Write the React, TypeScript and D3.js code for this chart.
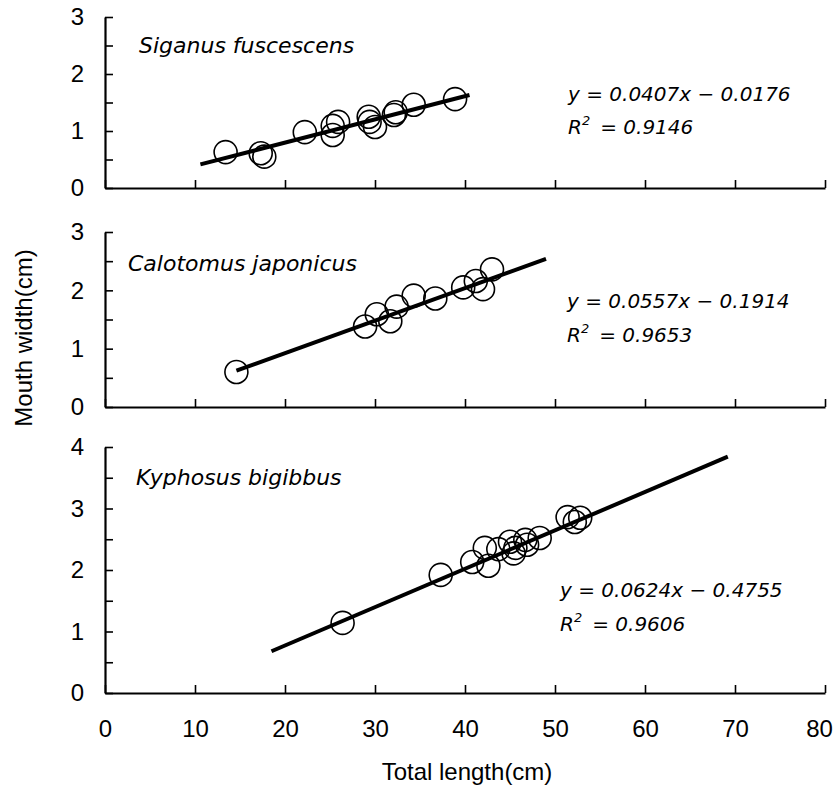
import React, { useEffect, useRef } from "react";
import * as d3 from "d3";

// ---- data ----
const xTicks = [0, 10, 20, 30, 40, 50, 60, 70, 80];

const sigX = [13.4, 17.3, 17.7, 22.2, 25.3, 25.3, 25.9, 29.3, 29.4, 30.0, 32.1, 32.3, 34.3, 38.9];
const sigY = [0.63, 0.61, 0.55, 0.98, 1.09, 0.93, 1.16, 1.25, 1.16, 1.07, 1.28, 1.33, 1.46, 1.56];

const calX = [14.6, 28.9, 30.2, 31.7, 32.4, 34.3, 36.7, 39.8, 41.2, 42.0, 43.0];
const calY = [0.60, 1.38, 1.59, 1.47, 1.72, 1.91, 1.86, 2.05, 2.16, 2.02, 2.36];

const kypX = [26.4, 37.3, 40.8, 42.2, 42.6, 43.7, 45.0, 45.4, 45.6, 46.7, 46.9, 48.3, 51.4, 52.2, 52.8];
const kypY = [1.14, 1.92, 2.13, 2.36, 2.07, 2.34, 2.46, 2.27, 2.36, 2.49, 2.41, 2.52, 2.86, 2.78, 2.85];

const species = ["Siganus fuscescens", "Calotomus japonicus", "Kyphosus bigibbus"];
const slopes = [0.0407, 0.0557, 0.0624];
const intercepts = [-0.0176, -0.1914, -0.4755];
const fitRanges = [[10.6, 40.5], [14.6, 49.0], [18.5, 69.2]];
const eqTexts = ["y = 0.0407x − 0.0176", "y = 0.0557x − 0.1914", "y = 0.0624x − 0.4755"];
const r2Texts = ["0.9146", "0.9653", "0.9606"];
const yMaxes = [3, 3, 4];

const W = 833;
const H = 787;
const X0 = 105;
const X1 = 825;

interface PanelCfg {
  top: number;
  bottom: number;
  xs: number[];
  ys: number[];
  labelX: number;
  labelY: number;
  eqX: number;
  eqY: number;
  r2Y: number;
}

const panels: PanelCfg[] = [
  { top: 17, bottom: 188, xs: sigX, ys: sigY, labelX: 139, labelY: 53, eqX: 568, eqY: 101, r2Y: 134 },
  { top: 232, bottom: 407, xs: calX, ys: calY, labelX: 128, labelY: 271, eqX: 567, eqY: 308, r2Y: 342 },
  { top: 447, bottom: 693, xs: kypX, ys: kypY, labelX: 136, labelY: 485, eqX: 560, eqY: 597, r2Y: 631 },
];

const TICK_FONT = "'Liberation Sans Narrow', 'Liberation Sans', Arial, sans-serif";
const ITAL_FONT = "'DejaVu Sans', sans-serif";

export default function App() {
  const ref = useRef<SVGSVGElement | null>(null);

  useEffect(() => {
    const svg = d3.select(ref.current);
    svg.selectAll("*").remove();
    const x = d3.scaleLinear().domain([0, 80]).range([X0, X1]);

    panels.forEach((p, i) => {
      const y = d3.scaleLinear().domain([0, yMaxes[i]]).range([p.bottom, p.top]);
      const g = svg.append("g");

      // x axis
      const xa = d3
        .axisBottom(x)
        .tickValues(xTicks)
        .tickSizeInner(-8)
        .tickSizeOuter(0)
        .tickPadding(27)
        .tickFormat((d) => (i === 2 ? String(d) : ""));
      const gx = g.append("g").attr("transform", `translate(0,${p.bottom})`).call(xa);
      gx.select(".domain").attr("stroke", "#000").attr("stroke-width", 2.2);
      gx.selectAll(".tick line").attr("stroke", "#000").attr("stroke-width", 1.6);
      gx.selectAll(".tick text")
        .attr("font-family", TICK_FONT)
        .attr("font-size", 24)
        .attr("fill", "#000")
        .attr("dx", (d) => ((d as number) === 80 ? -6 : 0));

      // y axis
      const yt = d3.range(0, yMaxes[i] + 0.01, 0.5);
      const ya = d3
        .axisLeft(y)
        .tickValues(yt)
        .tickSizeInner(-8)
        .tickSizeOuter(0)
        .tickPadding(21)
        .tickFormat((d) => (Number.isInteger(d as number) ? String(d) : ""));
      const gy = g.append("g").attr("transform", `translate(${X0},0)`).call(ya);
      gy.select(".domain").attr("stroke", "#000").attr("stroke-width", 2.2);
      gy.selectAll(".tick line").attr("stroke", "#000").attr("stroke-width", 1.6);
      gy.selectAll(".tick text")
        .attr("font-family", TICK_FONT)
        .attr("font-size", 24)
        .attr("fill", "#000");

      // fit line
      const [a, b] = fitRanges[i];
      const line = d3
        .line<number>()
        .x((d) => x(d))
        .y((d) => y(slopes[i] * d + intercepts[i]));
      g.append("path")
        .attr("d", line([a, b]))
        .attr("fill", "none")
        .attr("stroke", "#000")
        .attr("stroke-width", 4)
        .attr("stroke-linecap", "butt");

      // points
      g.selectAll("circle.pt")
        .data(p.xs.map((v, k) => [v, p.ys[k]]))
        .enter()
        .append("circle")
        .attr("class", "pt")
        .attr("cx", (d) => x(d[0]))
        .attr("cy", (d) => y(d[1]))
        .attr("r", 11.5)
        .attr("fill", "none")
        .attr("stroke", "#000")
        .attr("stroke-width", 1.6);

      // species label
      g.append("text")
        .attr("x", p.labelX)
        .attr("y", p.labelY)
        .attr("font-family", ITAL_FONT)
        .attr("font-style", "italic")
        .attr("font-size", 22)
        .attr("fill", "#000")
        .text(species[i]);

      // equation
      g.append("text")
        .attr("x", p.eqX)
        .attr("y", p.eqY)
        .attr("font-family", ITAL_FONT)
        .attr("font-style", "italic")
        .attr("font-size", 20)
        .attr("fill", "#000")
        .text(eqTexts[i]);

      const r2 = g
        .append("text")
        .attr("x", p.eqX)
        .attr("y", p.r2Y)
        .attr("font-family", ITAL_FONT)
        .attr("font-style", "italic")
        .attr("font-size", 20)
        .attr("fill", "#000");
      r2.append("tspan").text("R");
      r2.append("tspan").attr("dy", -9).attr("font-size", 13).text("2");
      r2.append("tspan").attr("dy", 9).attr("dx", 10).text("= " + r2Texts[i]);
    });

    // axis titles
    svg
      .append("text")
      .attr("x", 467)
      .attr("y", 780)
      .attr("text-anchor", "middle")
      .attr("font-family", TICK_FONT)
      .attr("font-size", 24)
      .attr("fill", "#000")
      .text("Total length(cm)");

    svg
      .append("text")
      .attr("transform", `translate(32,338) rotate(-90)`)
      .attr("text-anchor", "middle")
      .attr("font-family", TICK_FONT)
      .attr("font-size", 24)
      .attr("fill", "#000")
      .text("Mouth width(cm)");
  }, []);

  return (
    <svg
      ref={ref}
      width={W}
      height={H}
      style={{ position: "absolute", left: 0, top: 0, background: "#fff" }}
    />
  );
}
